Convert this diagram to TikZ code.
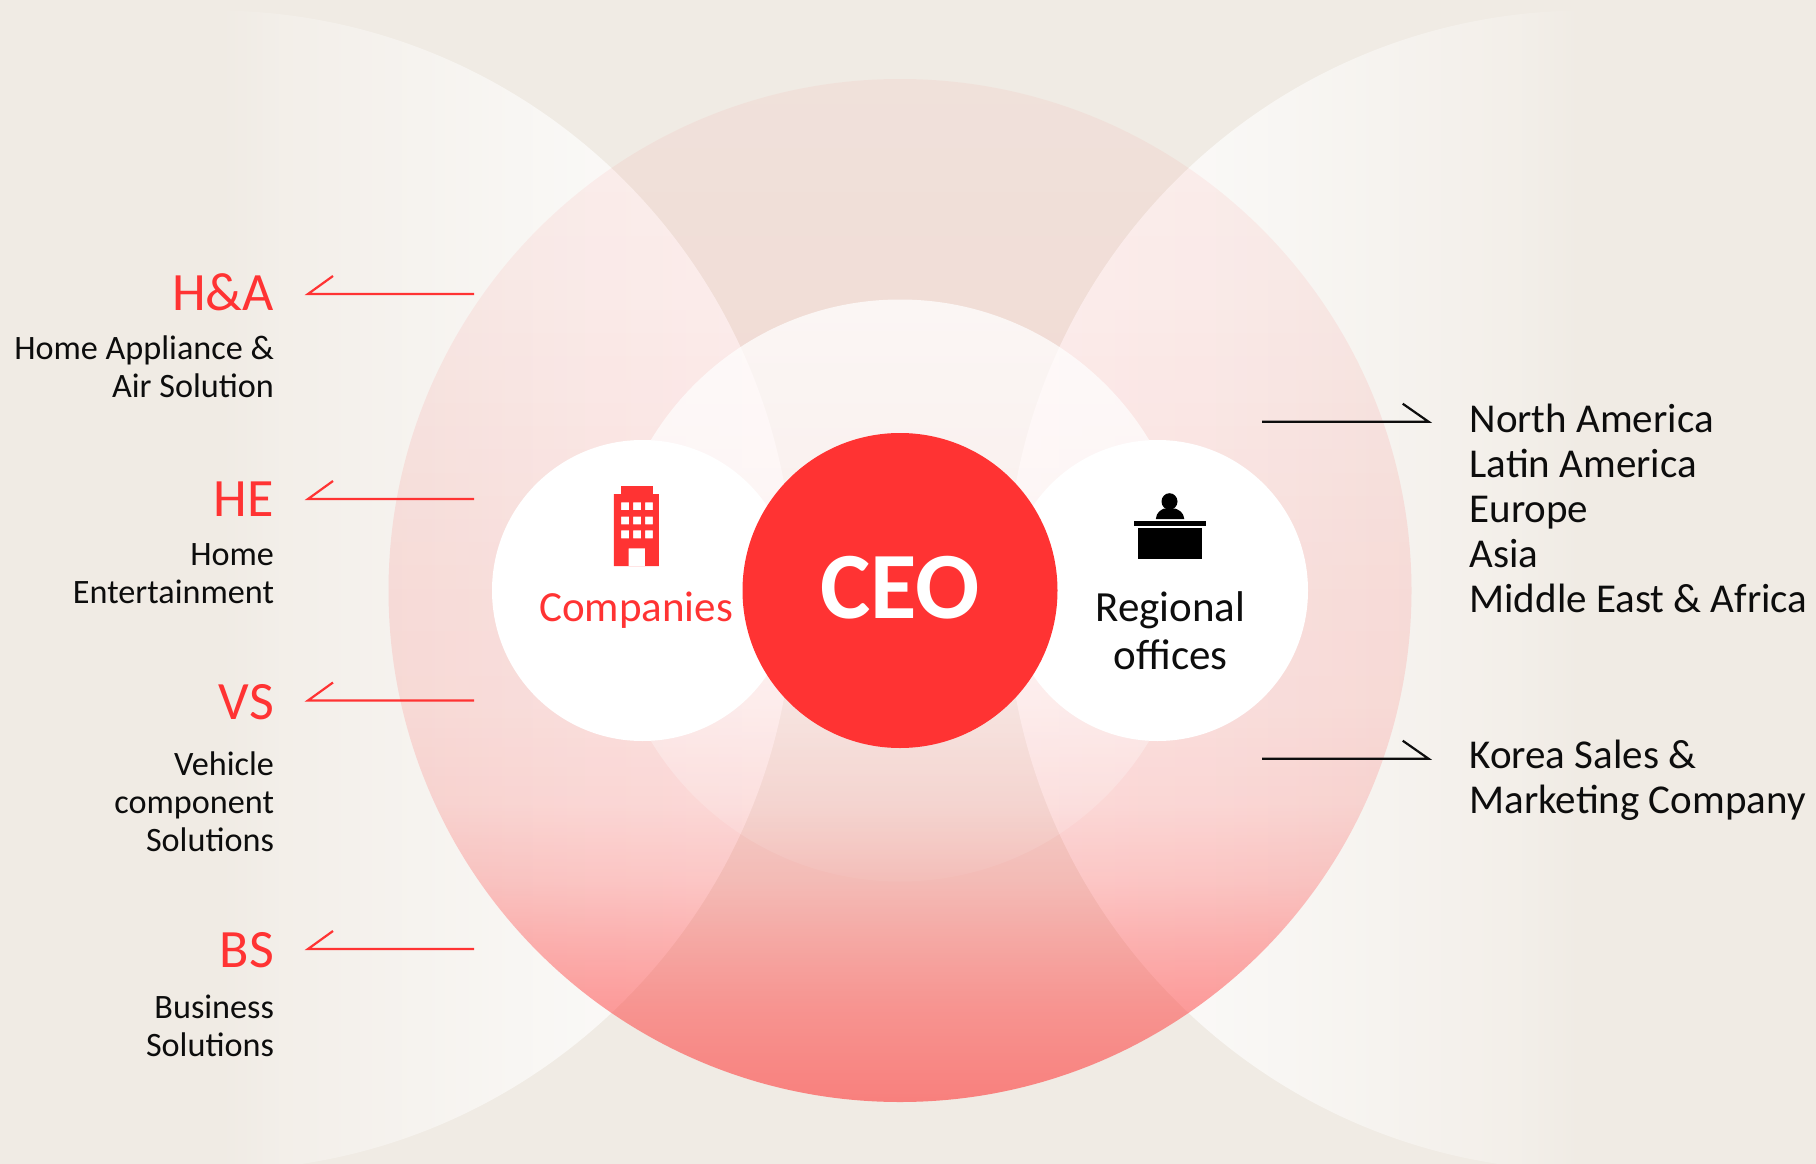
\documentclass[tikz,border=0pt]{standalone}
\usepackage{fontspec}
\setmainfont{Carlito}
\usetikzlibrary{fadings}
\definecolor{bgbeige}{HTML}{F0EBE4}
\definecolor{lgred}{HTML}{FF3333}
\definecolor{inkblack}{HTML}{0D0D0D}
% a fitted fading maps its central 50bp onto the bounding box of the path
\pgfdeclareverticalshading{bigshade}{100bp}{
 color(0bp)=(pgftransparent!41);color(25bp)=(pgftransparent!41);color(30bp)=(pgftransparent!53);
 color(33.25bp)=(pgftransparent!64);color(36bp)=(pgftransparent!74);
 color(39.75bp)=(pgftransparent!83);color(44.5bp)=(pgftransparent!87);
 color(50bp)=(pgftransparent!88);color(64.25bp)=(pgftransparent!93);
 color(75bp)=(pgftransparent!95);color(100bp)=(pgftransparent!95)}
\pgfdeclarefading{bigfade}{\pgfuseshading{bigshade}}
\pgfdeclareverticalshading{innershade}{100bp}{
 color(0bp)=(pgftransparent!97);color(25bp)=(pgftransparent!97);color(36.2bp)=(pgftransparent!72);
 color(44.85bp)=(pgftransparent!50);color(57.75bp)=(pgftransparent!35);
 color(75bp)=(pgftransparent!25);color(100bp)=(pgftransparent!25)}
\pgfdeclarefading{innerfade}{\pgfuseshading{innershade}}
\pgfdeclarehorizontalshading{leftshade}{100bp}{
 color(0bp)=(pgftransparent!100);color(50bp)=(pgftransparent!100);
 color(52.75bp)=(pgftransparent!80);color(58bp)=(pgftransparent!60);
 color(65bp)=(pgftransparent!35);color(75bp)=(pgftransparent!15);color(100bp)=(pgftransparent!15)}
\pgfdeclarefading{leftfade}{\pgfuseshading{leftshade}}
\pgfdeclarehorizontalshading{rightshade}{100bp}{
 color(0bp)=(pgftransparent!15);color(25bp)=(pgftransparent!15);color(35bp)=(pgftransparent!35);
 color(42bp)=(pgftransparent!60);color(47.25bp)=(pgftransparent!80);
 color(50bp)=(pgftransparent!100);color(100bp)=(pgftransparent!100)}
\pgfdeclarefading{rightfade}{\pgfuseshading{rightshade}}
\tikzset{
 base label/.style={inner sep=0pt,outer sep=0pt},
 unit title/.style={base label,anchor=base east,text=lgred,font=\fontsize{54}{58}\selectfont},
 unit text/.style={base label,anchor=base east,align=right,text=inkblack,font=\fontsize{34.2}{38}\selectfont},
 region text/.style={base label,anchor=base west,align=left,text=inkblack,font=\fontsize{41}{45}\selectfont},
 red line/.style={draw=lgred,line width=2.2pt,line join=miter,miter limit=20},
 black line/.style={draw=inkblack,line width=2.2pt,line join=miter,miter limit=20},
 white disc/.style={fill=white,draw=none,circle,minimum size=301pt,inner sep=0pt},
}
\begin{document}
\begin{tikzpicture}[x=1pt,y=-1pt]
\useasboundingbox (0,0) rectangle (1816,1164);
\clip (0,0) rectangle (1816,1164);
\fill[bgbeige] (0,0) rectangle (1816,1164);
% soft side circles
\begin{scope}
 \clip (214,590.5) circle (580);
 \fill[white,path fading=leftfade] (-372,4.5) rectangle (800,1176.5);
\end{scope}
\begin{scope}
 \clip (1586,590.5) circle (580);
 \fill[white,path fading=rightfade] (1000,4.5) rectangle (2172,1176.5);
\end{scope}
% large circle and inner circle
\begin{scope}
 \clip (900,590.5) circle (511.5);
 \fill[lgred,path fading=bigfade] (382.5,73) rectangle (1417.5,1108);
\end{scope}
\begin{scope}
 \clip (900,590.5) circle (291);
 \fill[white,path fading=innerfade] (603,293.5) rectangle (1197,887.5);
\end{scope}
% discs
\node[white disc] (companies) at (642.5,590.5) {};
\node[white disc] (regional) at (1157.5,590.5) {};
\node[circle,fill=lgred,minimum size=315pt,inner sep=0pt] (ceo) at (900,590.5) {};
\node[base label,anchor=base,text=white,font=\fontsize{95}{95}\selectfont\bfseries] (ceotext) at (900,618) {CEO};
% building icon
\fill[lgred,even odd rule]
 (621,486) rectangle (652.8,494)
 (613.8,494) rectangle (658.8,566)
 (621,502.3) rectangle (629,510) (633,502.3) rectangle (641,510) (645,502.3) rectangle (652.8,510)
 (621,516.7) rectangle (629,524.3) (633,516.7) rectangle (641,524.3) (645,516.7) rectangle (652.8,524.3)
 (621,530.3) rectangle (629,538.3) (633,530.3) rectangle (641,538.3) (645,530.3) rectangle (652.8,538.3)
 (628.7,548.3) rectangle (645,566);
\node[base label,anchor=base,text=lgred,font=\fontsize{43}{48}\selectfont] (companiestext) at (636,621.5) {Companies};
% desk icon
\fill[black] (1169.5,501.5) ellipse (8 and 8.3);
\fill[black] (1155.8,519) .. controls (1156.5,512) and (1161,510) .. (1164,508.5) -- (1175,508.5) .. controls (1179,510) and (1183.5,512) .. (1184.3,519) -- cycle;
\fill[black] (1134,521.3) rectangle (1206,526.3);
\fill[black] (1138,528.3) rectangle (1202.4,559);
\node[base label,anchor=base,align=center,text=inkblack,font=\fontsize{43}{48}\selectfont] (regionaltext) at (1170.5,669.5) {Regional\\offices};
% left labels
\node[unit title] (ha) at (274,310.7) {H\&A};
\node[unit text] (hatext) at (274,397.5) {Home Appliance \&\\Air Solution};
\node[unit title] (he) at (274,516.7) {HE};
\node[unit text] (hetext) at (274,603.2) {Home\\Entertainment};
\node[unit title] (vs) at (274,719) {VS};
\node[unit text] (vstext) at (274,851) {Vehicle\\component\\Solutions};
\node[unit title] (bs) at (274,967) {BS};
\node[unit text] (bstext) at (274,1056.5) {Business\\Solutions};
% right labels
\node[region text] (regions) at (1469.5,612) {North America\\Latin America\\Europe\\Asia\\Middle East \& Africa};
\node[region text] (korea) at (1469.5,813) {Korea Sales \&\\Marketing Company};
% connectors
\foreach \n/\y in {a/294,b/499,c/700.5,d/949}{
 \coordinate (\n start) at (474,\y);
 \coordinate (\n tip) at (308,\y);
 \coordinate (\n barb) at (333,\y-18);
 \draw[red line] (\n start) -- (\n tip) -- (\n barb);
}
\foreach \n/\y in {e/421.7,f/758.7}{
 \coordinate (\n start) at (1262,\y);
 \coordinate (\n tip) at (1428.5,\y);
 \coordinate (\n barb) at (1402.7,\y-18);
 \draw[black line] (\n start) -- (\n tip) -- (\n barb);
}
\end{tikzpicture}
\end{document}
